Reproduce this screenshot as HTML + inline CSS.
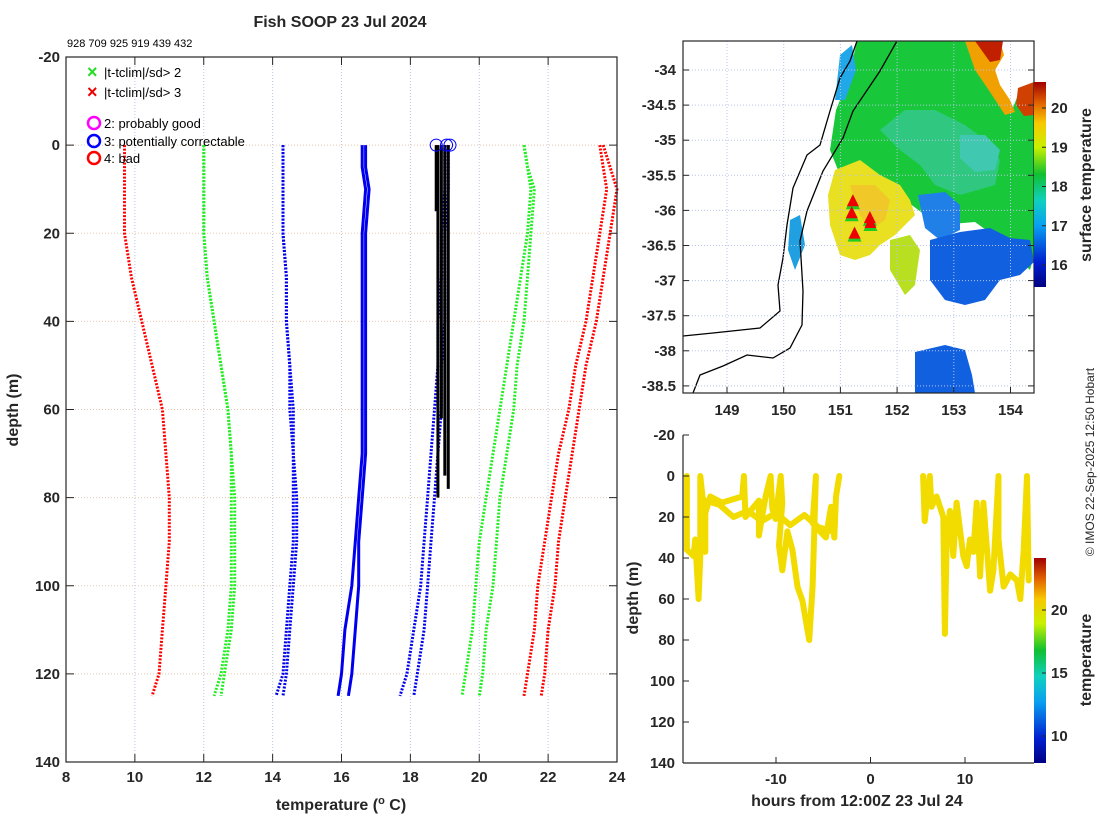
<!DOCTYPE html>
<html><head><meta charset="utf-8"><style>
html,body{margin:0;padding:0;background:#fff}
svg{display:block;font-family:"Liberation Sans","DejaVu Sans",sans-serif}
.tk{font-weight:bold;font-size:15px;fill:#262626}
.lb{font-weight:bold;font-size:16px;fill:#262626}
</style></head><body>
<svg id="fig" width="1100" height="820" viewBox="0 0 1100 820" xmlns="http://www.w3.org/2000/svg">
<defs>
<linearGradient id="jet" x1="0" y1="1" x2="0" y2="0">
<stop offset="0" stop-color="#000080"/><stop offset="0.12" stop-color="#0020d0"/><stop offset="0.3" stop-color="#0aa0f0"/><stop offset="0.42" stop-color="#10d0c0"/><stop offset="0.55" stop-color="#10c030"/><stop offset="0.68" stop-color="#c8f000"/><stop offset="0.8" stop-color="#f8c800"/><stop offset="0.9" stop-color="#e06000"/><stop offset="1" stop-color="#a00000"/>
</linearGradient>
<clipPath id="mapclip"><rect x="683" y="41" width="351" height="352"/></clipPath>
</defs>
<text x="340" y="27" text-anchor="middle" class="lb">Fish SOOP 23 Jul 2024</text>
<text x="67" y="47" font-size="11" fill="#000">928 709 925 919 439 432</text>
<g id="left"></g>
<g id="map"></g>
<g id="ts"></g>
<text transform="translate(1094,462) rotate(-90)" text-anchor="middle" font-size="12" fill="#262626">© IMOS 22-Sep-2025 12:50 Hobart</text>
</svg>
<script>
// ---- profile data ----
const depths=[0,5,10,20,30,40,50,60,70,80,90,100,110,120,125];
const redL=[9.7,9.7,9.7,9.7,9.9,10.2,10.5,10.8,10.9,11.0,11.0,10.9,10.8,10.7,10.5];
const redR1=[23.5,23.6,23.7,23.5,23.3,23.1,22.8,22.6,22.3,22.1,21.9,21.7,21.6,21.4,21.3];
const redR2=[23.6,23.8,24.0,23.8,23.6,23.4,23.1,22.9,22.7,22.5,22.3,22.2,22.0,21.9,21.8];
const greenL1=[12.0,12.0,12.0,12.0,12.1,12.3,12.5,12.7,12.8,12.8,12.8,12.8,12.7,12.5,12.3];
const greenL2=[12.0,12.0,12.0,12.0,12.1,12.3,12.5,12.7,12.8,12.9,12.9,12.9,12.8,12.6,12.5];
const greenR1=[21.3,21.4,21.5,21.4,21.2,21.0,20.8,20.6,20.4,20.2,20.0,19.9,19.8,19.6,19.5];
const greenR2=[21.3,21.4,21.6,21.5,21.4,21.3,21.1,21.0,20.8,20.6,20.5,20.4,20.2,20.1,20.0];
const blueL1=[14.3,14.3,14.3,14.3,14.4,14.4,14.5,14.5,14.6,14.6,14.6,14.5,14.4,14.3,14.1];
const blueL2=[14.3,14.3,14.3,14.3,14.4,14.4,14.5,14.6,14.6,14.7,14.7,14.6,14.5,14.4,14.3];
const blueR1=[19.0,19.0,19.0,18.9,18.9,18.8,18.8,18.7,18.6,18.5,18.4,18.3,18.1,17.9,17.7];
const blueR2=[19.1,19.1,19.1,19.0,19.0,19.0,18.9,18.9,18.8,18.7,18.6,18.5,18.4,18.2,18.1];
const blueS1=[16.6,16.6,16.7,16.6,16.6,16.6,16.6,16.6,16.6,16.5,16.4,16.3,16.1,16.0,15.9];
const blueS2=[16.7,16.7,16.8,16.7,16.7,16.7,16.7,16.7,16.7,16.6,16.5,16.5,16.4,16.3,16.2];
const obsT=[18.8,18.9,19.0,19.1,18.75];
const obsMax=[80,62,75,78,15];
const circT=[18.75,19.05,19.15];
const tempTicks=[8,10,12,14,16,18,20,22,24];
const depthTicks=[-20,0,20,40,60,80,100,120,140];
// ---- time series data ----
const tsHours1=[-19.43,-19.43,-18.72,-18.55,-18.19,-18.01,-18.01,-17.66,-17.48,-17.48,-16.95,-15.71,-13.58,-13.40,-13.23,-11.81,-11.81,-11.10,-10.57,-10.39,-10.04,-9.50,-9.33,-9.68,-9.33,-8.79,-8.26,-7.73,-7.20,-6.49,-6.13,-5.78,-6.13,-5.78,-4.72,-4.18,-3.83,-3.65,-3.30];
const tsDepth1=[0,36,39,31,60,39,0,15,37,18,10,13,10,0,20,12,29,10,0,16,21,0,13,34,46,27,36,54,61,80,54,0,23,25,30,15,30,10,0];
const tsHours1b=[-17.5,-16.0,-14.5,-13.0,-11.5,-10.0,-8.5,-7.0,-5.5,-4.0];
const tsDepth1b=[12,14,20,17,22,18,24,19,25,27];
const tsHours2=[5.57,5.74,6.28,6.45,6.99,7.70,7.87,8.05,8.40,8.76,9.11,9.82,10.18,10.53,10.89,11.24,11.60,11.95,12.30,12.66,13.01,13.55,13.55,14.08,14.79,15.50,15.85,16.21,16.56,16.74];
const tsDepth2=[0,22,0,15,10,20,77,33,17,39,13,39,44,31,37,13,49,13,34,56,46,0,31,54,48,51,60,36,0,51];
const hourTicks=[-10,0,10];
const tsDepthTicks=[-20,0,20,40,60,80,100,120,140];
const cbTicks=[10,15,20];
const sstTicks=[16,17,18,19,20];
const lonTicks=[149,150,151,152,153,154];
const latTicks=[-34,-34.5,-35,-35.5,-36,-36.5,-37,-37.5,-38,-38.5];
const tagLon=[151.22,151.2,151.52,151.53,151.25];
const tagLat=[-35.87,-36.04,-36.11,-36.18,-36.33];

const NS='http://www.w3.org/2000/svg';
function mk(parent,tag,attrs,text){const e=document.createElementNS(NS,tag);for(const k in attrs)e.setAttribute(k,attrs[k]);if(text!==undefined)e.textContent=text;parent.appendChild(e);return e;}

// ===== left profile plot =====
const L=document.getElementById('left');
const X0=66,X1=617,Y0=57,Y1=762;
const xT=t=>X0+(t-8)*(X1-X0)/16;
const yD=d=>Y0+(d+20)*(Y1-Y0)/160;
tempTicks.forEach(t=>{
  const g=mk(L,'line',{x1:xT(t),x2:xT(t),y1:Y0,y2:Y1,stroke:'#b8c4e8','stroke-width':1,'stroke-dasharray':'1,2'});
  
  
  mk(L,'line',{x1:xT(t),x2:xT(t),y1:Y1,y2:Y1-8,stroke:'#262626','stroke-width':1});
  mk(L,'line',{x1:xT(t),x2:xT(t),y1:Y0,y2:Y0+8,stroke:'#262626','stroke-width':1});
  const lt=mk(L,'text',{x:xT(t),y:Y1+20,'text-anchor':'middle',class:'tk'},String(t));
  
  
});
depthTicks.forEach(d=>{
  const g=mk(L,'line',{x1:X0,x2:X1,y1:yD(d),y2:yD(d),stroke:'#e8c8b0','stroke-width':1,'stroke-dasharray':'1,2'});
  
  
  mk(L,'line',{x1:X0,x2:X0+8,y1:yD(d),y2:yD(d),stroke:'#262626'});
  mk(L,'line',{x1:X1,x2:X1-8,y1:yD(d),y2:yD(d),stroke:'#262626'});
  const lt=mk(L,'text',{x:X0-6,y:yD(d)+5,'text-anchor':'end',class:'tk'},String(d));
  
  
});
function prof(arr,color,dash,w,name){
  const pts=arr.map((t,i)=>xT(t).toFixed(1)+','+yD(depths[i]).toFixed(1)).join(' ');
  const p=mk(L,'polyline',{points:pts,fill:'none',stroke:color,'stroke-width':w,'stroke-dasharray':dash});
  
  
}
prof(redL,'#ff0000','2,1.5',3,'clim-minus-3sd');
prof(greenL1,'#22ee22','2,1.5',3,'clim-minus-2sd');
prof(greenL2,'#22ee22','2,1.5',3,'clim-minus-2sd-b');
prof(blueL1,'#0000ee','2,1.5',3,'clim-minus-1sd');
prof(blueL2,'#0000ee','2,1.5',3,'clim-minus-1sd-b');
prof(blueS1,'#0000ee','none',3,'clim-mean');
prof(blueS2,'#0000ee','none',3,'clim-mean-b');
prof(blueR1,'#0000ee','2,1.5',3,'clim-plus-1sd');
prof(blueR2,'#0000ee','2,1.5',3,'clim-plus-1sd-b');
prof(greenR1,'#22ee22','2,1.5',3,'clim-plus-2sd');
prof(greenR2,'#22ee22','2,1.5',3,'clim-plus-2sd-b');
prof(redR1,'#ff0000','2,1.5',3,'clim-plus-3sd');
prof(redR2,'#ff0000','2,1.5',3,'clim-plus-3sd-b');
obsT.forEach((t,i)=>{
  const l=mk(L,'line',{x1:xT(t),x2:xT(t),y1:yD(0),y2:yD(obsMax[i]),stroke:'#000','stroke-width':3});
  
  
});
circT.forEach(t=>{
  const c=mk(L,'circle',{cx:xT(t),cy:yD(0),r:6,fill:'none',stroke:'#0000ff','stroke-width':1});
  
  
});
mk(L,'rect',{x:X0,y:Y0,width:X1-X0,height:Y1-Y0,fill:'none',stroke:'#262626','stroke-width':1.2});
// legend
const lg=mk(L,'g',{});


[['×','#22dd22','|t-tclim|/sd> 2',78],['×','#ee0000','|t-tclim|/sd> 3',98]].forEach(a=>{
  mk(lg,'text',{x:87,y:a[3],'font-size':18,'font-weight':'bold',fill:a[1]},a[0]);
  const t=mk(lg,'text',{x:104,y:a[3]-1,'font-size':13,fill:'#000'},a[2]);
  
  
});
[['#ff00ff','2: probably good',128],['#0000ff','3: potentially correctable',146],['#ff0000','4: bad',163]].forEach(a=>{
  mk(lg,'circle',{cx:94,cy:a[2]-5,r:6,fill:'none',stroke:a[0],'stroke-width':2.5});
  const t=mk(lg,'text',{x:104,y:a[2],'font-size':13,fill:'#000'},a[1]);
  
  
});
const xl=mk(L,'text',{x:341,y:810,'text-anchor':'middle',class:'lb'});
xl.innerHTML='temperature (<tspan dy="-6" font-size="11">o</tspan><tspan dy="6"> C)</tspan>';


const yl=mk(L,'text',{transform:'translate(18,410) rotate(-90)','text-anchor':'middle',class:'lb'},'depth (m)');



// ===== map =====
const M=document.getElementById('map');
const MX0=683,MX1=1034,MY0=41,MY1=393;
const xLon=l=>727+(l-149)*56.7;
const yLat=l=>70+(-34-l)*70.2;
const mc=mk(M,'g',{'clip-path':'url(#mapclip)'});
function poly(pts,fill,name){const p=mk(mc,'polygon',{points:pts,fill:fill});}
poly('857,41 965,41 985,80 1000,100 1012,110 1020,90 1034,85 1034,255 1030,270 1000,240 975,222 940,225 925,215 905,200 880,190 860,195 840,175 830,150 836,110 848,80','#18c83a','sst-green');
poly('965,41 1000,41 1004,55 995,70 1000,85 1010,100 1015,112 1005,115 990,92 975,70','#f0a000','sst-orange');
poly('975,41 1003,41 1000,60 990,62','#c02000','sst-red');
poly('1018,88 1034,82 1034,115 1024,116 1016,105','#d04000','sst-red-right');
poly('880,130 905,110 935,110 965,125 985,140 1000,160 995,185 960,195 935,185 920,165 900,150','#30c880','sst-cyan-swirl');
poly('960,135 985,135 1000,150 995,170 975,172 960,158','#40c8b0','sst-eddy');
poly('835,170 860,160 880,175 900,185 910,200 915,215 905,225 895,235 880,245 870,255 855,260 840,255 835,240 830,225 828,195','#e8e020','sst-yellow');
poly('850,185 875,185 890,200 885,220 870,230 860,215','#f0c828','sst-yellow-core');
poly('890,240 910,235 920,250 915,285 905,295 890,270','#b8e020','sst-lime');
poly('918,195 945,192 960,205 960,230 940,240 925,228','#2080e8','sst-blue-patch');
poly('930,240 960,232 990,228 1010,238 1030,240 1034,262 1020,275 1000,280 985,300 965,305 945,300 930,280','#1060e0','sst-blue-south');
poly('915,352 945,345 965,350 972,375 975,393 915,393','#1060e0','sst-blue-bottom');
poly('790,220 800,215 805,245 795,270 788,250','#20a0e0','sst-coastal-cyan');
poly('840,55 852,45 856,70 845,100 835,100','#20a8e8','sst-coastal-strip');
const cst=mk(mc,'polyline',{points:'683,336 713,333 760,328 780,311 778,285 783,258 787,225 793,188 807,155 820,145 830,111 840,78 850,61 857,41',fill:'none',stroke:'#000','stroke-width':1.3});


const shelf=mk(mc,'polyline',{points:'693,393 700,375 723,366 747,355 773,358 790,348 802,325 803,291 800,241 807,211 823,171 843,138 853,111 880,71 897,41',fill:'none',stroke:'#000','stroke-width':1.3});


lonTicks.forEach(l=>{
  mk(M,'line',{x1:xLon(l),x2:xLon(l),y1:MY0,y2:MY1,stroke:'#b8c4e8','stroke-dasharray':'1,2'});
  mk(M,'line',{x1:xLon(l),x2:xLon(l),y1:MY1,y2:MY1-6,stroke:'#262626'});
  const t=mk(M,'text',{x:xLon(l),y:MY1+22,'text-anchor':'middle',class:'tk'},String(l));
  
  
});
latTicks.forEach(l=>{
  mk(M,'line',{x1:MX0,x2:MX1,y1:yLat(l),y2:yLat(l),stroke:'#b8c4e8','stroke-dasharray':'1,2'});
  mk(M,'line',{x1:MX0,x2:MX0+6,y1:yLat(l),y2:yLat(l),stroke:'#262626'});
  mk(M,'line',{x1:MX1,x2:MX1-6,y1:yLat(l),y2:yLat(l),stroke:'#262626'});
  const t=mk(M,'text',{x:MX0-7,y:yLat(l)+5,'text-anchor':'end',class:'tk'},String(l));
  
  
});
tagLon.forEach((lo,i)=>{
  const x=xLon(lo),y=yLat(tagLat[i]);
  mk(M,'polygon',{points:`${x-7},${y+8} ${x+7},${y+8} ${x},${y-7}`,fill:'#22cc22'});
  const tr=mk(M,'polygon',{points:`${x-6},${y+5} ${x+6},${y+5} ${x},${y-7}`,fill:'#ee0000'});
  
  
});
mk(M,'rect',{x:MX0,y:MY0,width:MX1-MX0,height:MY1-MY0,fill:'none',stroke:'#262626','stroke-width':1.2});
const cbar=mk(M,'rect',{x:1034,y:82,width:12,height:205,fill:'url(#jet)'});


const ySst=v=>265-(v-16)*39.25;
sstTicks.forEach(v=>{
  mk(M,'line',{x1:1046,x2:1042,y1:ySst(v),y2:ySst(v),stroke:'#262626'});
  const t=mk(M,'text',{x:1051,y:ySst(v)+5,class:'tk'},String(v));
  
  
});
const st=mk(M,'text',{transform:'translate(1091,185) rotate(-90)','text-anchor':'middle',class:'lb'},'surface temperature');



// ===== time series =====
const T=document.getElementById('ts');
const TX0=683,TX1=1034,TY0=435,TY1=763;
const xH=h=>870.5+h*9.45;
const yTD=d=>476+d*2.05;
function tsLine(hs,ds,name){
  const pts=hs.map((h,i)=>xH(h).toFixed(1)+','+yTD(ds[i]).toFixed(1)).join(' ');
  const p=mk(T,'polyline',{points:pts,fill:'none',stroke:'#f2dc00','stroke-width':6,'stroke-linejoin':'round','stroke-linecap':'round'});
  
  
}
tsLine(tsHours1,tsDepth1,'depth-trace-1');
tsLine(tsHours1b,tsDepth1b,'depth-trace-1-band');
tsLine(tsHours2,tsDepth2,'depth-trace-2');
mk(T,'line',{x1:TX0,x2:TX0,y1:TY0,y2:TY1,stroke:'#262626','stroke-width':1.2});
mk(T,'line',{x1:TX0,x2:TX1,y1:TY1,y2:TY1,stroke:'#262626','stroke-width':1.2});
tsDepthTicks.forEach(d=>{
  mk(T,'line',{x1:TX0,x2:TX0+6,y1:yTD(d),y2:yTD(d),stroke:'#262626'});
  const t=mk(T,'text',{x:TX0-8,y:yTD(d)+5,'text-anchor':'end',class:'tk'},String(d));
  
  
});
hourTicks.forEach(h=>{
  mk(T,'line',{x1:xH(h),x2:xH(h),y1:TY1,y2:TY1-6,stroke:'#262626'});
  const t=mk(T,'text',{x:xH(h),y:TY1+21,'text-anchor':'middle',class:'tk'},String(h));
  
  
});
const tx=mk(T,'text',{x:857,y:806,'text-anchor':'middle',class:'lb'},'hours from 12:00Z 23 Jul 24');


const ty=mk(T,'text',{transform:'translate(638,598) rotate(-90)','text-anchor':'middle',class:'lb'},'depth (m)');


const cb2=mk(T,'rect',{x:1034,y:558,width:12,height:205,fill:'url(#jet)'});


const yCb=v=>736-(v-10)*12.6;
cbTicks.forEach(v=>{
  mk(T,'line',{x1:1046,x2:1042,y1:yCb(v),y2:yCb(v),stroke:'#262626'});
  const t=mk(T,'text',{x:1051,y:yCb(v)+5,class:'tk'},String(v));
  
  
});
const ct=mk(T,'text',{transform:'translate(1091,660) rotate(-90)','text-anchor':'middle',class:'lb'},'temperature');


</script>
</body></html>
